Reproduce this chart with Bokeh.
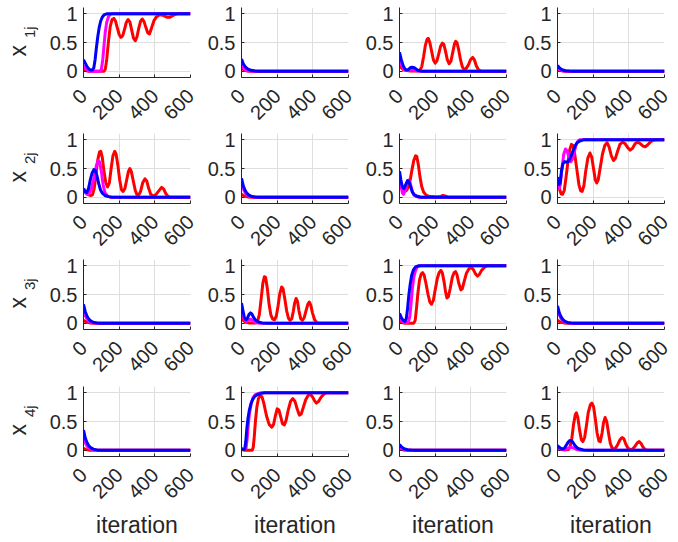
import numpy as np
from bokeh.plotting import figure
from bokeh.layouts import column, row
from bokeh.models import Range1d, FixedTicker
from bokeh.core.properties import value
from bokeh.embed import file_html
from bokeh.resources import INLINE

# ---------------- data (iteration, value) ----------------
X_TICKS = [0, 200, 400, 600]
Y_TICKS = [0, 0.5, 1]
Y_TICK_LABELS = ["0", "0.5", "1"]
X_LABEL = "iteration"
Y_MAIN = "x"
Y_SUBS = ["1j", "2j", "3j", "4j"]

# row 1
RED_11 = [(0,0.05),(10,0.02),(20,0.005),(30,0),(115,0),(122,0.03),(130,0.2),(140,0.52),(150,0.78),(160,0.9),(170,0.92),(180,0.87),(190,0.75),(200,0.64),(210,0.59),(220,0.62),(230,0.73),(240,0.85),(250,0.9),(260,0.86),(270,0.72),(280,0.58),(290,0.53),(300,0.6),(310,0.75),(320,0.87),(330,0.91),(340,0.86),(350,0.76),(360,0.67),(370,0.65),(380,0.74),(395,0.88),(410,0.95),(425,0.98),(440,0.98),(455,0.96),(470,0.94),(485,0.94),(500,0.97),(515,0.99),(530,1.0),(600,1.0)]
MAG_11 = [(0,0.1),(10,0.05),(20,0.02),(30,0.005),(40,0),(95,0),(100,0.03),(108,0.2),(115,0.45),(122,0.68),(130,0.85),(140,0.95),(150,0.99),(160,1.0),(600,1.0)]
BLUE_11 = [(0,0.2),(10,0.14),(20,0.08),(30,0.04),(40,0.02),(50,0.02),(58,0.06),(65,0.2),(72,0.4),(80,0.6),(88,0.76),(96,0.87),(105,0.94),(115,0.98),(130,1.0),(600,1.0)]

RED_12 = [(0,0.05),(10,0.03),(20,0.015),(30,0.005),(50,0),(600,0)]
MAG_12 = [(0,0.12),(10,0.06),(20,0.03),(30,0.012),(45,0.003),(60,0),(600,0)]
BLUE_12 = [(0,0.21),(10,0.13),(20,0.08),(30,0.05),(40,0.03),(55,0.015),(75,0.005),(100,0),(600,0)]

RED_13 = [(0,0.12),(10,0.06),(20,0.03),(40,0.01),(60,0.005),(100,0.002),(115,0.02),(125,0.08),(135,0.25),(145,0.45),(155,0.56),(162,0.57),(170,0.5),(180,0.35),(190,0.2),(200,0.14),(210,0.18),(220,0.3),(230,0.43),(240,0.49),(248,0.47),(258,0.35),(268,0.2),(278,0.13),(288,0.17),(298,0.32),(308,0.47),(315,0.52),(322,0.5),(332,0.37),(342,0.2),(352,0.08),(362,0.03),(372,0.04),(385,0.1),(398,0.2),(410,0.24),(420,0.2),(430,0.1),(442,0.03),(455,0.005),(470,0),(600,0)]
MAG_13 = [(0,0.25),(10,0.12),(20,0.05),(30,0.02),(45,0.01),(60,0.02),(75,0.02),(90,0.01),(110,0),(600,0)]
BLUE_13 = [(0,0.33),(10,0.2),(20,0.1),(30,0.04),(40,0.02),(50,0.03),(60,0.06),(70,0.07),(80,0.065),(90,0.045),(100,0.02),(115,0.005),(130,0),(600,0)]

RED_14 = [(0,0.03),(10,0.015),(25,0.005),(50,0),(600,0)]
MAG_14 = [(0,0.06),(10,0.03),(20,0.015),(35,0.005),(60,0),(600,0)]
BLUE_14 = [(0,0.1),(10,0.06),(20,0.035),(30,0.02),(45,0.008),(65,0.002),(90,0),(600,0)]

# row 2
RED_21 = [(0,0.15),(10,0.1),(20,0.06),(30,0.04),(40,0.03),(50,0.04),(60,0.15),(70,0.4),(80,0.65),(90,0.79),(97,0.8),(105,0.7),(115,0.45),(125,0.25),(135,0.18),(145,0.25),(155,0.5),(165,0.72),(175,0.8),(183,0.75),(193,0.55),(203,0.3),(213,0.13),(222,0.1),(232,0.15),(242,0.3),(252,0.45),(260,0.5),(268,0.45),(278,0.3),(290,0.12),(300,0.04),(310,0.04),(320,0.1),(332,0.25),(345,0.32),(355,0.28),(365,0.16),(377,0.05),(390,0.02),(405,0.04),(420,0.1),(438,0.17),(450,0.14),(462,0.06),(475,0.01),(490,0),(600,0)]
MAG_21 = [(0,0.15),(10,0.08),(20,0.05),(30,0.06),(45,0.15),(60,0.35),(72,0.55),(82,0.64),(90,0.62),(100,0.45),(110,0.22),(120,0.08),(135,0.02),(150,0),(600,0)]
BLUE_21 = [(0,0.15),(8,0.1),(18,0.08),(28,0.15),(38,0.3),(48,0.42),(58,0.48),(66,0.47),(75,0.38),(85,0.24),(95,0.13),(105,0.07),(120,0.03),(140,0.01),(160,0),(600,0)]

RED_22 = [(0,0.05),(15,0.02),(35,0.005),(60,0),(600,0)]
MAG_22 = [(0,0.28),(10,0.15),(20,0.08),(30,0.04),(45,0.015),(65,0.003),(90,0),(600,0)]
BLUE_22 = [(0,0.33),(10,0.2),(20,0.12),(30,0.07),(40,0.04),(55,0.015),(75,0.005),(100,0),(600,0)]

RED_23 = [(0,0.3),(10,0.18),(20,0.12),(30,0.1),(40,0.12),(50,0.18),(60,0.3),(70,0.48),(80,0.64),(90,0.72),(97,0.71),(105,0.58),(115,0.35),(125,0.18),(135,0.09),(148,0.04),(160,0.02),(180,0.01),(210,0.005),(230,0.01),(243,0.03),(255,0.02),(270,0.005),(290,0),(600,0)]
MAG_23 = [(0,0.35),(8,0.2),(16,0.08),(22,0.05),(32,0.12),(42,0.25),(52,0.3),(60,0.25),(70,0.12),(80,0.04),(95,0.01),(110,0),(600,0)]
BLUE_23 = [(0,0.45),(8,0.3),(16,0.18),(25,0.15),(35,0.22),(45,0.29),(52,0.28),(62,0.18),(72,0.09),(84,0.04),(100,0.015),(120,0),(600,0)]

RED_24 = [(0,0.3),(10,0.15),(20,0.06),(28,0.05),(38,0.12),(48,0.35),(58,0.6),(68,0.82),(78,0.92),(88,0.9),(98,0.72),(110,0.45),(120,0.22),(130,0.11),(138,0.1),(148,0.2),(158,0.45),(170,0.68),(182,0.77),(192,0.7),(202,0.5),(212,0.3),(220,0.25),(228,0.3),(240,0.52),(252,0.75),(265,0.9),(278,0.95),(290,0.87),(302,0.72),(314,0.64),(325,0.68),(337,0.8),(350,0.92),(365,0.96),(380,0.93),(395,0.86),(408,0.82),(420,0.85),(435,0.93),(450,0.96),(465,0.93),(480,0.89),(492,0.88),(505,0.91),(520,0.96),(535,0.99),(550,1.0),(600,1.0)]
MAG_24 = [(0,0.3),(8,0.15),(15,0.2),(25,0.5),(35,0.75),(45,0.84),(55,0.8),(65,0.68),(75,0.62),(85,0.67),(95,0.8),(105,0.92),(115,0.98),(125,1.0),(600,1.0)]
BLUE_24 = [(0,0.35),(8,0.22),(15,0.25),(22,0.45),(30,0.58),(40,0.62),(50,0.61),(60,0.62),(70,0.67),(80,0.75),(90,0.83),(100,0.9),(110,0.95),(125,0.98),(145,1.0),(600,1.0)]

# row 3
RED_31 = [(0,0.05),(15,0.02),(35,0.005),(60,0),(600,0)]
MAG_31 = [(0,0.25),(10,0.13),(20,0.07),(30,0.035),(45,0.012),(65,0.003),(90,0),(600,0)]
BLUE_31 = [(0,0.33),(10,0.2),(20,0.12),(30,0.07),(40,0.04),(55,0.015),(75,0.005),(100,0),(600,0)]

RED_32 = [(0,0.1),(10,0.05),(20,0.02),(40,0.005),(80,0.002),(90,0.03),(100,0.15),(110,0.42),(120,0.7),(128,0.81),(135,0.8),(145,0.6),(155,0.32),(165,0.14),(175,0.07),(185,0.06),(195,0.12),(205,0.3),(215,0.52),(225,0.63),(233,0.6),(243,0.42),(253,0.22),(263,0.09),(272,0.05),(282,0.08),(290,0.2),(298,0.35),(306,0.43),(314,0.38),(322,0.22),(332,0.08),(342,0.05),(352,0.1),(362,0.22),(372,0.33),(380,0.37),(388,0.32),(398,0.18),(410,0.06),(422,0.01),(435,0),(600,0)]
MAG_32 = [(0,0.3),(8,0.15),(16,0.06),(26,0.03),(38,0.05),(50,0.07),(62,0.05),(75,0.02),(95,0),(600,0)]
BLUE_32 = [(0,0.35),(8,0.22),(16,0.1),(24,0.06),(32,0.08),(42,0.15),(50,0.18),(58,0.16),(68,0.1),(80,0.05),(95,0.02),(115,0.005),(140,0),(600,0)]

RED_33 = [(0,0.03),(15,0.01),(30,0),(80,0),(88,0.05),(95,0.25),(103,0.52),(112,0.75),(122,0.86),(130,0.88),(138,0.84),(148,0.7),(160,0.5),(170,0.37),(180,0.33),(190,0.4),(200,0.58),(212,0.78),(222,0.88),(232,0.92),(240,0.88),(250,0.72),(258,0.55),(266,0.44),(274,0.46),(284,0.6),(296,0.8),(306,0.88),(314,0.9),(322,0.85),(332,0.7),(344,0.58),(352,0.6),(362,0.72),(375,0.87),(390,0.95),(403,0.97),(415,0.93),(426,0.86),(437,0.82),(448,0.85),(460,0.92),(475,0.97),(490,1.0),(600,1.0)]
MAG_33 = [(0,0.1),(10,0.05),(20,0.02),(35,0.01),(50,0.02),(58,0.12),(65,0.35),(72,0.6),(80,0.8),(90,0.92),(100,0.98),(115,1.0),(600,1.0)]
BLUE_33 = [(0,0.17),(10,0.1),(20,0.05),(30,0.03),(38,0.08),(45,0.25),(52,0.48),(60,0.68),(68,0.83),(78,0.93),(90,0.98),(105,1.0),(600,1.0)]

RED_34 = [(0,0.05),(15,0.02),(35,0.005),(60,0),(600,0)]
MAG_34 = [(0,0.27),(10,0.15),(20,0.08),(30,0.04),(45,0.014),(65,0.003),(90,0),(600,0)]
BLUE_34 = [(0,0.3),(10,0.18),(20,0.11),(30,0.065),(40,0.035),(55,0.013),(75,0.004),(100,0),(600,0)]

# row 4
RED_41 = [(0,0.03),(15,0.01),(35,0),(600,0)]
MAG_41 = [(0,0.25),(10,0.13),(20,0.07),(30,0.035),(45,0.012),(65,0.003),(90,0),(600,0)]
BLUE_41 = [(0,0.35),(10,0.21),(20,0.13),(30,0.075),(40,0.045),(55,0.018),(75,0.005),(100,0),(600,0)]

RED_42 = [(0,0.01),(20,0),(60,0),(66,0.05),(72,0.25),(78,0.5),(86,0.75),(95,0.9),(105,0.95),(115,0.93),(125,0.82),(140,0.6),(155,0.45),(170,0.4),(180,0.45),(190,0.6),(200,0.72),(210,0.7),(220,0.58),(230,0.46),(240,0.44),(250,0.52),(262,0.7),(275,0.85),(288,0.9),(300,0.85),(312,0.72),(325,0.61),(335,0.63),(347,0.75),(360,0.88),(375,0.96),(388,0.97),(400,0.92),(410,0.86),(420,0.82),(432,0.85),(445,0.92),(460,0.97),(475,1.0),(600,1.0)]
MAG_42 = [(0,0.02),(15,0.005),(25,0.03),(32,0.2),(38,0.45),(45,0.65),(55,0.82),(65,0.92),(78,0.97),(95,0.99),(110,1.0),(600,1.0)]
BLUE_42 = [(0,0.03),(10,0.01),(18,0.02),(24,0.15),(30,0.38),(36,0.55),(44,0.7),(52,0.8),(62,0.88),(75,0.94),(90,0.97),(110,0.99),(130,1.0),(600,1.0)]

RED_43 = [(0,0.02),(20,0.005),(45,0),(600,0)]
MAG_43 = [(0,0.06),(10,0.03),(20,0.015),(35,0.005),(60,0),(600,0)]
BLUE_43 = [(0,0.1),(10,0.06),(20,0.035),(30,0.02),(45,0.008),(65,0.002),(90,0),(600,0)]

RED_44 = [(0,0.02),(20,0.01),(40,0.005),(60,0.01),(70,0.05),(80,0.2),(90,0.45),(100,0.62),(106,0.65),(114,0.57),(124,0.35),(134,0.18),(142,0.15),(152,0.22),(162,0.42),(172,0.65),(184,0.79),(193,0.82),(202,0.76),(212,0.55),(222,0.3),(232,0.16),(240,0.15),(250,0.3),(258,0.48),(267,0.57),(276,0.5),(286,0.3),(296,0.12),(306,0.04),(316,0.02),(326,0.04),(338,0.1),(350,0.18),(362,0.22),(372,0.2),(384,0.1),(396,0.03),(410,0.01),(422,0.02),(435,0.07),(448,0.13),(458,0.15),(468,0.12),(480,0.05),(492,0.01),(505,0),(600,0)]
MAG_44 = [(0,0.05),(10,0.03),(20,0.015),(35,0.01),(50,0.02),(65,0.04),(80,0.05),(95,0.03),(110,0.01),(130,0),(600,0)]
BLUE_44 = [(0,0.08),(10,0.05),(20,0.03),(30,0.02),(40,0.04),(50,0.09),(60,0.14),(70,0.17),(78,0.17),(88,0.13),(98,0.08),(110,0.04),(125,0.02),(145,0.005),(170,0),(600,0)]

PANELS = [
    [(RED_11, MAG_11, BLUE_11), (RED_12, MAG_12, BLUE_12), (RED_13, MAG_13, BLUE_13), (RED_14, MAG_14, BLUE_14)],
    [(RED_21, MAG_21, BLUE_21), (RED_22, MAG_22, BLUE_22), (RED_23, MAG_23, BLUE_23), (RED_24, MAG_24, BLUE_24)],
    [(RED_31, MAG_31, BLUE_31), (RED_32, MAG_32, BLUE_32), (RED_33, MAG_33, BLUE_33), (RED_34, MAG_34, BLUE_34)],
    [(RED_41, MAG_41, BLUE_41), (RED_42, MAG_42, BLUE_42), (RED_43, MAG_43, BLUE_43), (RED_44, MAG_44, BLUE_44)],
]

# ---------------- styling / layout ----------------
COLORS = ["#ff0000", "#ff00ff", "#0000ff"]
FONT = "Liberation Sans"
INK = "#262626"
X_MIN, X_MAX = 0, 600
Y_MIN, Y_MAX = -0.11, 1.11
FRAME_W, FRAME_H = 107, 70
LABEL_W = 46                       # strip on the left holding the row labels
COL_RIGHT = [14, 14, 14, 8]        # free space right of each frame
ROW_TOP = [7, 5, 5, 6]             # free space above each frame
FRAME_BOTTOMS = [77, 203, 329, 456]  # page y of each frame bottom (for the row labels)
TOTAL_H = 537

rows = []
for r in range(4):
    figs = []
    for c in range(4):
        p = figure(frame_width=FRAME_W, frame_height=FRAME_H,
                   x_range=Range1d(X_MIN, X_MAX), y_range=Range1d(Y_MIN, Y_MAX),
                   toolbar_location=None, output_backend="svg",
                   min_border_left=0, min_border_right=COL_RIGHT[c],
                   min_border_top=ROW_TOP[r], min_border_bottom=0)
        p.outline_line_color = None
        p.background_fill_color = "white"
        p.border_fill_color = "white"
        for series, color in zip(PANELS[r][c], COLORS):
            xs = [pt[0] for pt in series]
            ys = [pt[1] for pt in series]
            p.line(xs, ys, line_color=color, line_width=3, line_join="round")

        p.xaxis.ticker = FixedTicker(ticks=X_TICKS)
        p.yaxis.ticker = FixedTicker(ticks=Y_TICKS)
        p.yaxis.major_label_overrides = {t: s for t, s in zip(Y_TICKS, Y_TICK_LABELS)}
        p.xaxis.major_label_orientation = np.pi / 4
        for ax in (p.xaxis[0], p.yaxis[0]):
            ax.axis_line_color = INK
            ax.axis_line_width = 1
            ax.major_tick_line_color = INK
            ax.major_tick_in = 3
            ax.major_tick_out = 0
            ax.minor_tick_line_color = None
            ax.major_label_text_font = FONT
            ax.major_label_text_font_size = "20px"
            ax.major_label_text_color = INK
        p.yaxis.major_label_standoff = 6
        p.xaxis.major_label_standoff = 15
        p.grid.grid_line_color = "#dedede"
        p.grid.grid_line_width = 1
        if r == 3:
            p.xaxis.axis_label = X_LABEL
            p.xaxis.axis_label_text_font = FONT
            p.xaxis.axis_label_text_font_size = "23px"
            p.xaxis.axis_label_text_font_style = "normal"
            p.xaxis.axis_label_text_color = INK
            p.xaxis.axis_label_standoff = 4
        figs.append(p)
    rows.append(row(*figs, spacing=0))

# strip with the rotated row labels x_{ij}, laid out in pixel units
lab = figure(width=LABEL_W, height=TOTAL_H, x_range=Range1d(0, LABEL_W), y_range=Range1d(0, TOTAL_H),
             x_axis_type=None, y_axis_type=None, toolbar_location=None, output_backend="svg",
             min_border=0)
lab.outline_line_color = None
lab.grid.visible = False
for r in range(4):
    fb = FRAME_BOTTOMS[r]
    lab.text(x=[17], y=[TOTAL_H - (fb - 21)], text=[Y_MAIN], angle=np.pi / 2,
             text_font=value(FONT), text_font_size=value("23px"), text_color=INK,
             text_align="left", text_baseline="alphabetic")
    lab.text(x=[28.5], y=[TOTAL_H - (fb - 39.5)], text=[Y_SUBS[r]], angle=np.pi / 2,
             text_font=value(FONT), text_font_size=value("15px"), text_color=INK,
             text_align="left", text_baseline="alphabetic")

layout = row(lab, column(*rows, spacing=0), spacing=0)
open("out.html", "w").write(file_html(layout, INLINE))
